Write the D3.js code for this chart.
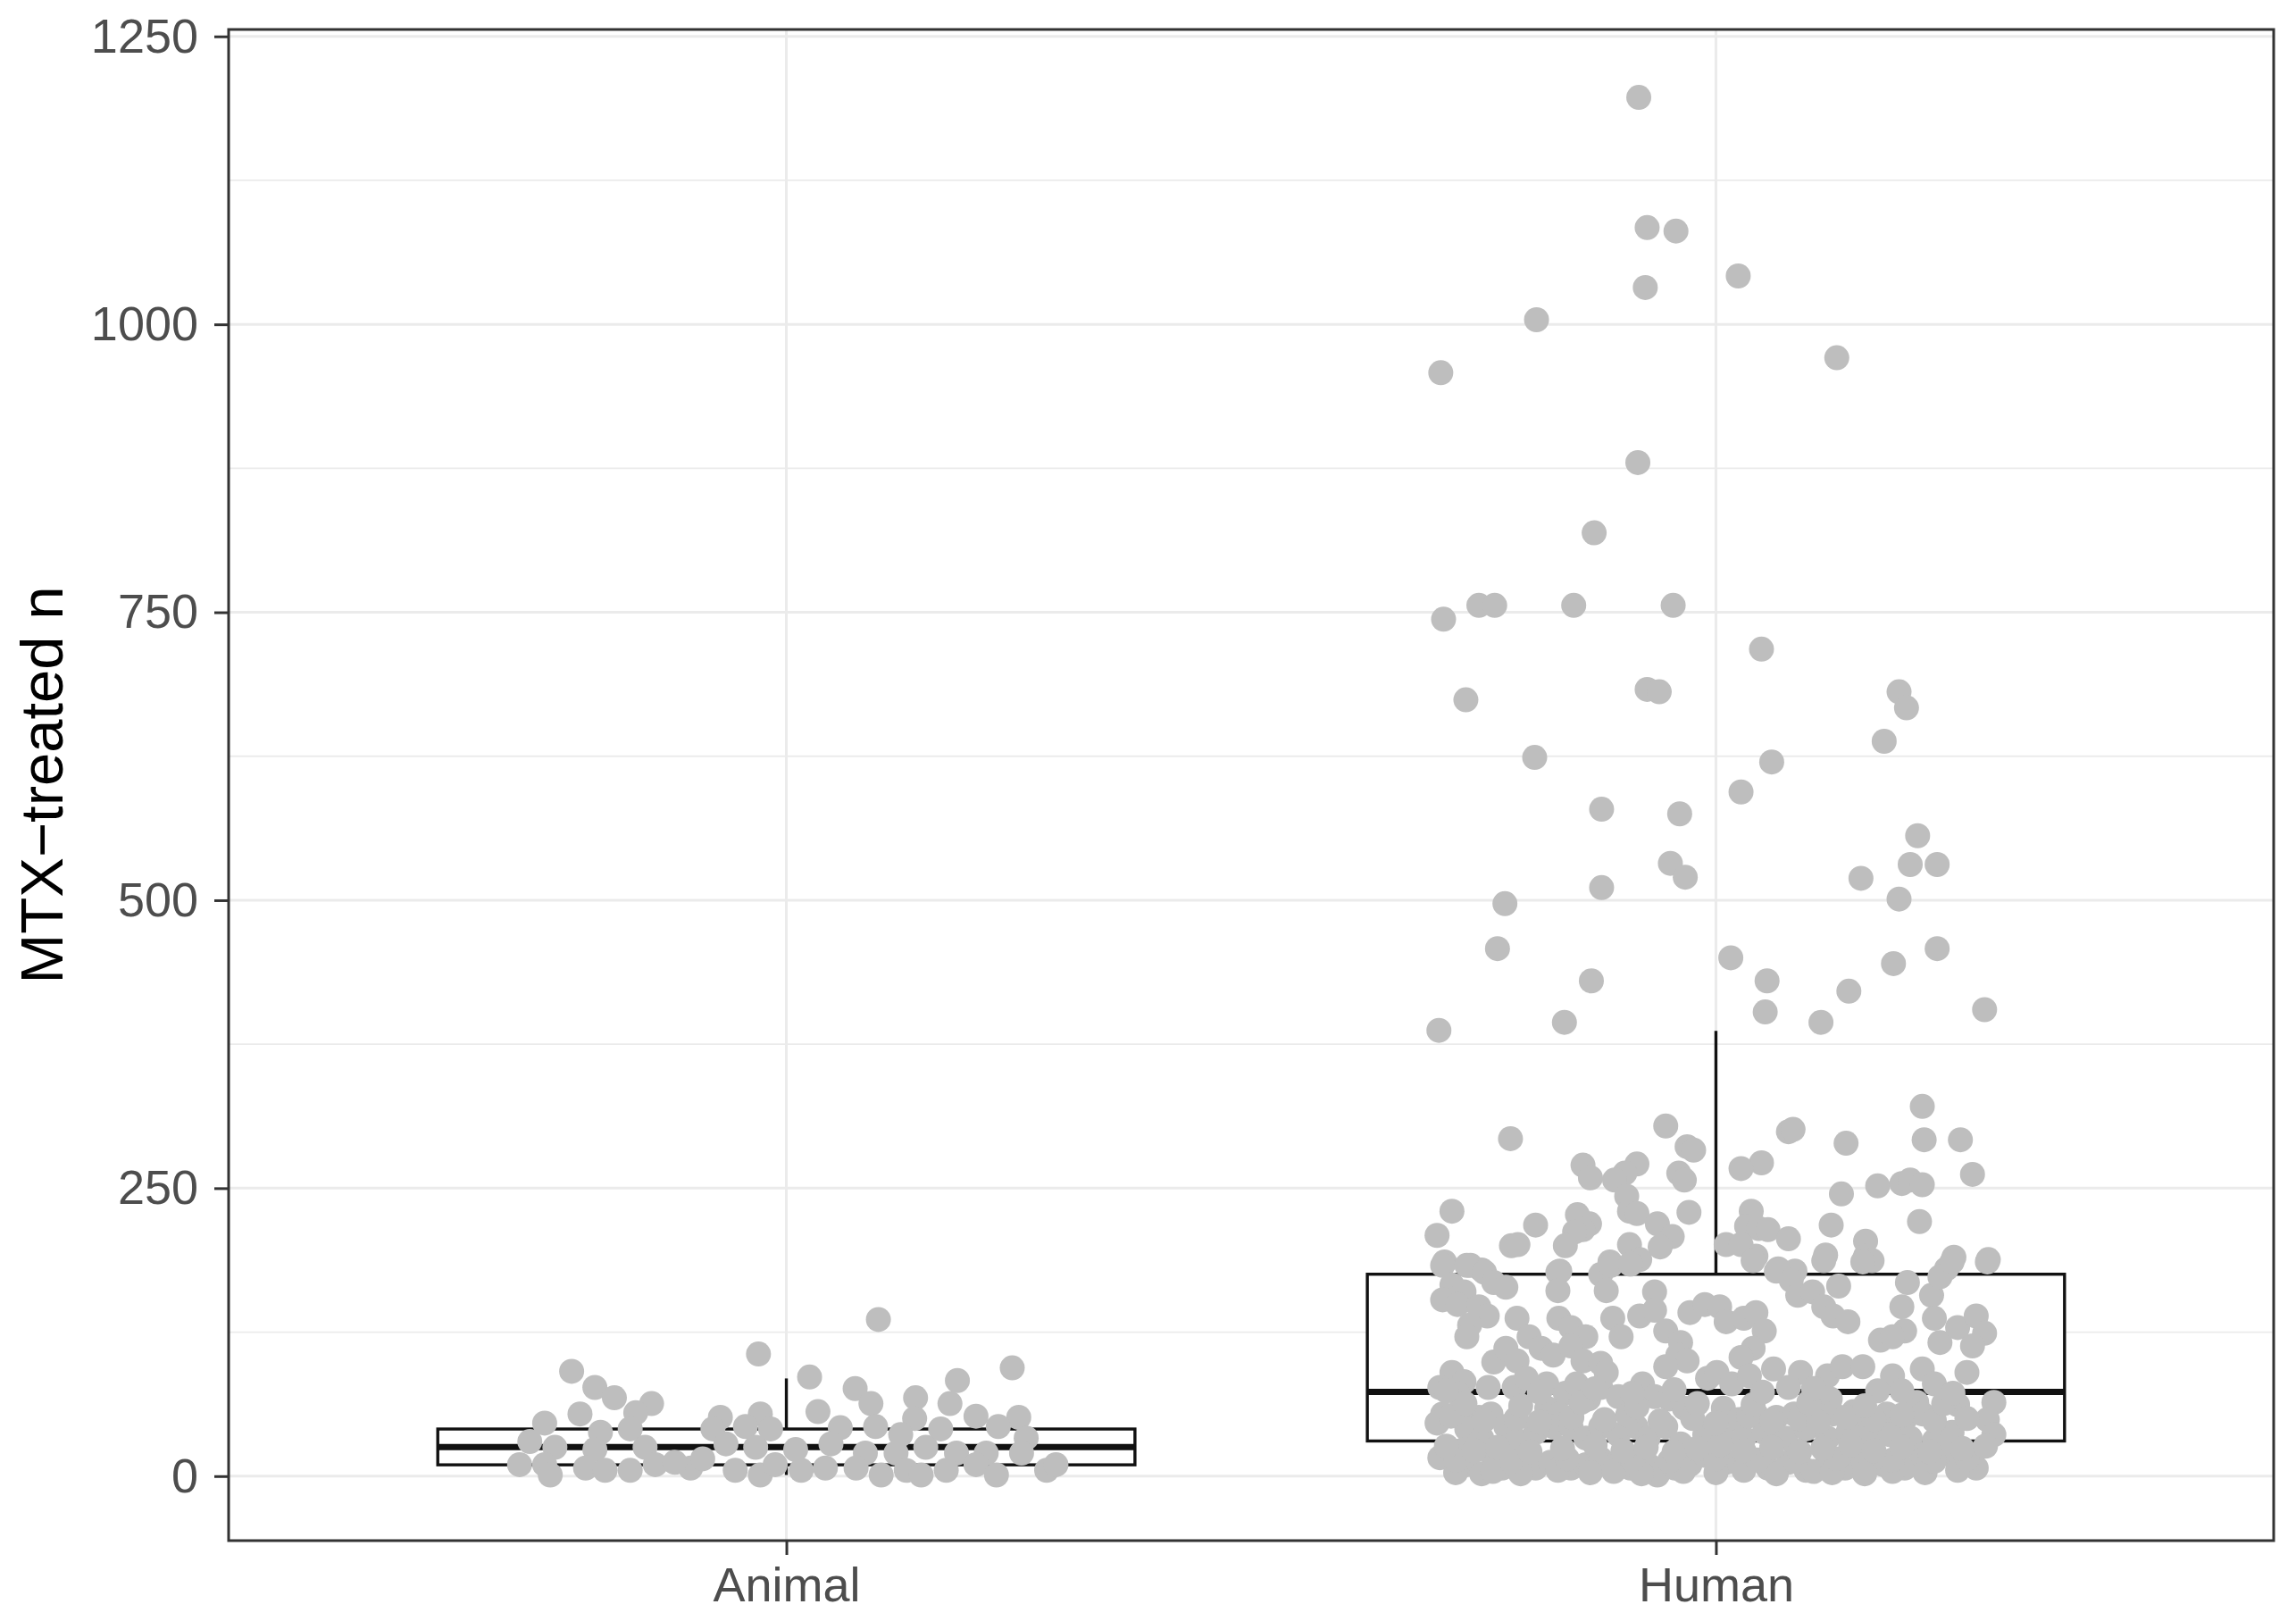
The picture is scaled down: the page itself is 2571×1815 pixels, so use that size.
<!DOCTYPE html>
<html>
<head>
<meta charset="utf-8">
<script src="https://cdn.jsdelivr.net/npm/d3@7"></script>
<style>
  body { margin: 0; background: #ffffff; }
  svg { display: block; }
</style>
</head>
<body>
<div id="chart"></div>
<script>
// categories and axis ticks
var categories = ["Animal", "Human"];
var yTicks = [0, 250, 500, 750, 1000, 1250];
var yMinorTicks = [125, 375, 625, 875, 1125];
var yLimits = [-56, 1256];

// box statistics: [lower whisker, q1, median, q3, upper whisker]
var animalBox = [1, 9.8, 25.3, 40.9, 84.8];
var humanBox = [1, 30.5, 73.2, 175.3, 386.5];

// jittered points: [offset from category centre (category units), value]
var animalPoints = [
    [0.099, 136], [-0.030, 106], [-0.231, 91], [0.025, 86], [0.243, 94], [0.184, 83], [-0.206, 77],
    [-0.185, 68], [-0.145, 63], [0.074, 76], [0.091, 63], [0.139, 68], [0.176, 63], [0.034, 56],
    [-0.162, 55], [-0.222, 54], [-0.26, 46], [-0.071, 51], [-0.028, 54], [0.204, 52], [0.25, 51],
    [0.228, 43], [0.138, 50], [0.058, 42], [-0.2, 38], [-0.168, 41], [-0.079, 41], [-0.044, 43],
    [-0.017, 41], [0.096, 43], [0.123, 36], [0.166, 41], [0.258, 33], [-0.276, 30], [-0.249, 25],
    [-0.206, 23], [-0.152, 25], [-0.065, 28], [-0.033, 25], [0.01, 23], [0.048, 28], [0.085, 20],
    [0.118, 20], [0.15, 25], [0.183, 20], [0.215, 20], [0.253, 20], [-0.287, 10], [-0.26, 10],
    [-0.216, 7], [-0.168, 5], [-0.141, 10], [-0.103, 7], [-0.055, 5], [-0.028, 1], [-0.012, 10],
    [0.016, 5], [0.042, 7], [0.075, 7], [0.102, 1], [0.129, 5], [0.145, 1], [0.172, 5], [0.204, 10],
    [0.226, 1], [0.28, 5], [0.29, 10], [-0.254, 1], [-0.195, 5], [-0.12, 12], [-0.09, 15]
];

var humanOutliers = [
    [-0.083, 1197], [-0.074, 1084], [-0.043, 1081], [0.024, 1042], [-0.076, 1032], [-0.193, 1004],
    [-0.296, 958], [0.130, 971], [-0.084, 880], [-0.131, 819], [-0.293, 744], [-0.255, 756],
    [-0.238, 756], [-0.153, 756], [-0.046, 756], [-0.269, 674], [0.049, 718], [-0.074, 683],
    [-0.061, 681], [0.197, 681], [0.205, 667], [-0.195, 624], [0.06, 620], [0.181, 638], [0.027, 594],
    [-0.123, 579], [-0.039, 575], [0.217, 556], [-0.049, 532], [-0.033, 520], [0.209, 531],
    [0.238, 531], [-0.227, 497], [-0.123, 511], [0.156, 519], [0.197, 501], [-0.235, 458],
    [0.016, 450], [0.238, 458], [-0.134, 430], [0.055, 430], [0.191, 445], [0.143, 421],
    [-0.163, 394], [0.053, 403], [0.113, 394], [0.289, 405], [-0.298, 387]
];

var humanMid = [
    [-0.221, 293], [-0.054, 304], [-0.031, 286], [-0.024, 283], [-0.143, 270], [-0.135, 259],
    [-0.085, 271], [-0.098, 263], [-0.109, 257], [-0.04, 263], [-0.034, 257], [-0.096, 243],
    [-0.093, 230], [-0.085, 228], [-0.029, 229], [-0.284, 230], [-0.3, 209], [-0.194, 218],
    [-0.22, 200], [-0.213, 201], [-0.149, 227], [-0.136, 219], [-0.143, 214], [-0.152, 212],
    [-0.162, 200], [-0.063, 219], [-0.047, 208], [-0.06, 199], [-0.093, 201], [-0.082, 188],
    [-0.114, 186], [-0.292, 186], [-0.264, 183], [-0.252, 179], [-0.168, 178],
    [0.222, 321], [0.224, 292], [0.263, 292], [0.078, 299], [0.083, 301], [0.14, 289], [0.049, 272],
    [0.027, 267], [0.276, 262], [0.135, 245], [0.174, 252], [0.2, 254], [0.209, 257], [0.222, 253],
    [0.219, 221], [0.124, 218], [0.038, 230], [0.033, 217], [0.046, 215], [0.056, 214], [0.011, 201],
    [0.027, 201], [0.078, 206], [0.043, 191], [0.118, 192], [0.161, 204], [0.161, 191], [0.168, 187],
    [0.256, 190], [0.293, 188], [0.067, 180], [0.085, 178], [0.248, 180]
];

var humanLowLeft = [
    [-0.294, 183], [-0.268, 183], [-0.249, 177], [-0.239, 168], [-0.226, 164], [-0.284, 166],
    [-0.271, 160], [-0.17, 177], [-0.17, 161], [-0.124, 175], [-0.113, 183], [-0.092, 184],
    [-0.118, 161], [-0.294, 153], [-0.278, 149], [-0.255, 147], [-0.246, 139], [-0.265, 131],
    [-0.268, 121], [-0.214, 137], [-0.169, 137], [-0.156, 129], [-0.14, 121], [-0.111, 137],
    [-0.102, 121], [-0.082, 139], [-0.066, 160], [-0.066, 144], [-0.028, 142], [-0.012, 149],
    [-0.054, 126], [-0.038, 116], [-0.239, 99], [-0.226, 111], [-0.214, 100], [-0.201, 121],
    [-0.188, 111], [-0.175, 105], [-0.156, 113], [-0.143, 100], [-0.124, 98], [-0.118, 90],
    [-0.041, 105], [-0.031, 100], [-0.054, 95], [-0.284, 90], [-0.271, 82], [-0.009, 85],
    [-0.297, 77], [-0.278, 72], [-0.217, 77], [-0.204, 85], [-0.182, 80], [-0.162, 72], [-0.15, 80],
    [-0.137, 67], [-0.124, 77], [-0.105, 69], [-0.079, 80], [-0.066, 69], [-0.05, 67], [-0.034, 59],
    [-0.294, 54], [-0.274, 59], [-0.255, 51], [-0.242, 54], [-0.182, 59], [-0.169, 54], [-0.3, 46],
    [-0.268, 41], [-0.252, 33], [-0.226, 43], [-0.214, 31], [-0.194, 38], [-0.175, 43], [-0.156, 43],
    [-0.14, 33], [-0.124, 43], [-0.105, 36], [-0.086, 43], [-0.073, 33], [-0.054, 43], [-0.038, 28],
    [-0.012, 36], [-0.271, 23], [-0.242, 20], [-0.297, 16], [-0.268, 10], [-0.252, 2], [-0.23, 7],
    [-0.214, 12], [-0.194, 7], [-0.178, 12], [-0.156, 7], [-0.14, 10], [-0.124, 15], [-0.105, 12],
    [-0.092, 7], [-0.073, 10], [-0.063, 1], [-0.044, 7], [-0.028, 10], [-0.012, 18]
];

var humanLowRight = [
    [0.04, 187], [0.065, 178], [0.081, 170], [0.088, 157], [0.104, 160], [0.116, 147], [0.126, 139],
    [0.142, 134], [0.132, 165], [0.158, 186], [0.116, 187], [0.206, 168], [0.2, 147], [0.203, 126],
    [0.177, 118], [0.19, 121], [0.232, 157], [0.241, 173], [0.254, 186], [0.292, 186], [0.235, 137],
    [0.241, 116], [0.26, 129], [0.28, 139], [0.289, 124], [0.276, 113], [0.004, 147], [0.011, 134],
    [0.03, 137], [0.043, 142], [0.052, 126], [0.04, 111], [0.027, 103], [0.001, 90], [0.017, 80],
    [0.036, 87], [0.062, 93], [0.091, 90], [0.078, 77], [0.12, 87], [0.136, 95], [0.158, 95],
    [0.123, 67], [0.19, 87], [0.174, 74], [0.222, 93], [0.235, 80], [0.27, 90], [0.26, 62],
    [0.299, 64], [0.292, 49], [0.216, 64], [0.008, 59], [0.024, 49], [0.043, 54], [0.065, 51],
    [0.084, 54], [0.104, 56], [0.126, 54], [0.148, 56], [0.164, 49], [0.184, 54], [0.203, 49],
    [0.222, 54], [0.008, 33], [0.03, 33], [0.052, 38], [0.075, 33], [0.097, 41], [0.12, 33],
    [0.142, 38], [0.164, 36], [0.187, 36], [0.209, 33], [0.235, 31], [0.254, 38], [0.299, 36],
    [0.011, 12], [0.033, 18], [0.056, 7], [0.078, 12], [0.097, 5], [0.12, 12], [0.139, 7],
    [0.158, 15], [0.18, 10], [0.203, 7], [0.222, 18], [0.248, 20], [0.273, 15], [0.28, 7]
];

// the densest band (0-90), where the points overlap almost solidly
var humanDense = [
    [-0.28, 3], [-0.24, 4], [-0.21, 2], [-0.17, 5], [-0.135, 3], [-0.11, 4], [-0.08, 2], [-0.035, 4],
    [0.0, 3], [0.03, 5], [0.065, 2], [0.105, 4], [0.125, 3], [0.16, 2], [0.19, 4], [0.225, 3], [0.26, 5],
    [-0.28, 14], [-0.22, 13], [-0.16, 15], [-0.09, 14], [-0.05, 13], [0.0, 15], [0.045, 14], [0.085, 13],
    [0.13, 15], [0.19, 14], [0.235, 13], [0.27, 15],
    [-0.29, 26], [-0.26, 22], [-0.235, 25], [-0.2, 21], [-0.165, 24], [-0.13, 27], [-0.1, 22],
    [-0.075, 25], [-0.045, 21], [-0.02, 24], [0.005, 27], [0.03, 22], [0.06, 25], [0.09, 21],
    [0.115, 24], [0.145, 27], [0.17, 22], [0.2, 25], [0.23, 21], [0.265, 24], [0.29, 26],
    [-0.285, 52], [-0.25, 48], [-0.215, 50], [-0.19, 47], [-0.155, 51], [-0.12, 49], [-0.095, 53],
    [-0.06, 48], [-0.025, 50], [0.0, 46], [0.035, 52], [0.06, 48], [0.09, 50], [0.11, 47],
    [0.14, 51], [0.17, 49], [0.2, 53], [0.235, 48], [0.27, 50],
    [-0.27, 63], [-0.21, 61], [-0.145, 64], [-0.085, 60], [-0.02, 63], [0.04, 62], [0.1, 64],
    [0.16, 61], [0.245, 63],
    [-0.29, 74], [-0.245, 77], [-0.19, 73], [-0.13, 76], [-0.09, 72], [-0.045, 75], [0.05, 73],
    [0.105, 76], [0.2, 74], [0.255, 72]
];

var humanPoints = humanOutliers.concat(humanMid, humanLowLeft, humanLowRight, humanDense);

// ---- layout ----
var width = 2571, height = 1815;
var panel = { left: 256, right: 2546, top: 33, bottom: 1725 };
var fontFamily = "'Liberation Sans', Arial, Helvetica, sans-serif";

var svg = d3.select("#chart").append("svg")
    .attr("width", width)
    .attr("height", height);

svg.append("rect")
    .attr("width", width)
    .attr("height", height)
    .attr("fill", "#ffffff");

var x = d3.scalePoint()
    .domain(categories)
    .range([panel.left, panel.right])
    .padding(0.6);

var y = d3.scaleLinear()
    .domain(yLimits)
    .range([panel.bottom, panel.top]);

var step = x.step();

// grid
var grid = svg.append("g");
grid.selectAll("line.minor")
    .data(yMinorTicks)
    .enter().append("line")
    .attr("class", "minor")
    .attr("x1", panel.left).attr("x2", panel.right)
    .attr("y1", function(d) { return y(d); })
    .attr("y2", function(d) { return y(d); })
    .attr("stroke", "#ebebeb")
    .attr("stroke-width", 1.8);

grid.selectAll("line.major")
    .data(yTicks)
    .enter().append("line")
    .attr("class", "major")
    .attr("x1", panel.left).attr("x2", panel.right)
    .attr("y1", function(d) { return y(d); })
    .attr("y2", function(d) { return y(d); })
    .attr("stroke", "#ebebeb")
    .attr("stroke-width", 3);

grid.selectAll("line.vmajor")
    .data(categories)
    .enter().append("line")
    .attr("class", "vmajor")
    .attr("y1", panel.top).attr("y2", panel.bottom)
    .attr("x1", function(d) { return x(d); })
    .attr("x2", function(d) { return x(d); })
    .attr("stroke", "#ebebeb")
    .attr("stroke-width", 3);

// boxes
var boxes = [
    { cat: "Animal", s: animalBox },
    { cat: "Human", s: humanBox }
];
var boxWidth = 0.75 * step;
var boxColor = "#111111";

var boxG = svg.append("g");
boxes.forEach(function(b) {
    var cx = x(b.cat);
    var s = b.s;
    // whiskers
    boxG.append("line")
        .attr("x1", cx).attr("x2", cx)
        .attr("y1", y(s[3])).attr("y2", y(s[4]))
        .attr("stroke", boxColor).attr("stroke-width", 3.4);
    boxG.append("line")
        .attr("x1", cx).attr("x2", cx)
        .attr("y1", y(s[1])).attr("y2", y(s[0]))
        .attr("stroke", boxColor).attr("stroke-width", 3.4);
    // box
    boxG.append("rect")
        .attr("x", cx - boxWidth / 2)
        .attr("y", y(s[3]))
        .attr("width", boxWidth)
        .attr("height", y(s[1]) - y(s[3]))
        .attr("fill", "#ffffff")
        .attr("stroke", boxColor)
        .attr("stroke-width", 3.4);
    // median
    boxG.append("line")
        .attr("x1", cx - boxWidth / 2).attr("x2", cx + boxWidth / 2)
        .attr("y1", y(s[2])).attr("y2", y(s[2]))
        .attr("stroke", boxColor).attr("stroke-width", 7);
});

// points
var pts = svg.append("g");
[["Animal", animalPoints], ["Human", humanPoints]].forEach(function(group) {
    pts.selectAll(null)
        .data(group[1])
        .enter().append("circle")
        .attr("cx", function(d) { return x(group[0]) + d[0] * step; })
        .attr("cy", function(d) { return y(d[1]); })
        .attr("r", 14)
        .attr("fill", "#bebebe");
});

// panel border
svg.append("rect")
    .attr("x", panel.left)
    .attr("y", panel.top)
    .attr("width", panel.right - panel.left)
    .attr("height", panel.bottom - panel.top)
    .attr("fill", "none")
    .attr("stroke", "#333333")
    .attr("stroke-width", 3);

// axes
var yAxis = d3.axisLeft(y)
    .tickValues(yTicks)
    .tickFormat(d3.format("d"))
    .tickSize(16)
    .tickPadding(18);
var yAxisG = svg.append("g")
    .attr("transform", "translate(" + panel.left + ",0)")
    .call(yAxis);

var xAxis = d3.axisBottom(x)
    .tickSize(16)
    .tickPadding(14);
var xAxisG = svg.append("g")
    .attr("transform", "translate(0," + panel.bottom + ")")
    .call(xAxis);

[yAxisG, xAxisG].forEach(function(g) {
    g.select(".domain").remove();
    g.selectAll(".tick line")
        .attr("stroke", "#333333")
        .attr("stroke-width", 3);
    g.selectAll(".tick text")
        .attr("fill", "#4d4d4d")
        .attr("font-family", fontFamily)
        .attr("font-size", 54);
});

// y title
svg.append("text")
    .attr("transform", "translate(70," + ((panel.top + panel.bottom) / 2) + ") rotate(-90)")
    .attr("text-anchor", "middle")
    .attr("font-family", fontFamily)
    .attr("font-size", 67)
    .attr("fill", "#000000")
    .text("MTX\u2212treated n");
</script>
</body>
</html>
